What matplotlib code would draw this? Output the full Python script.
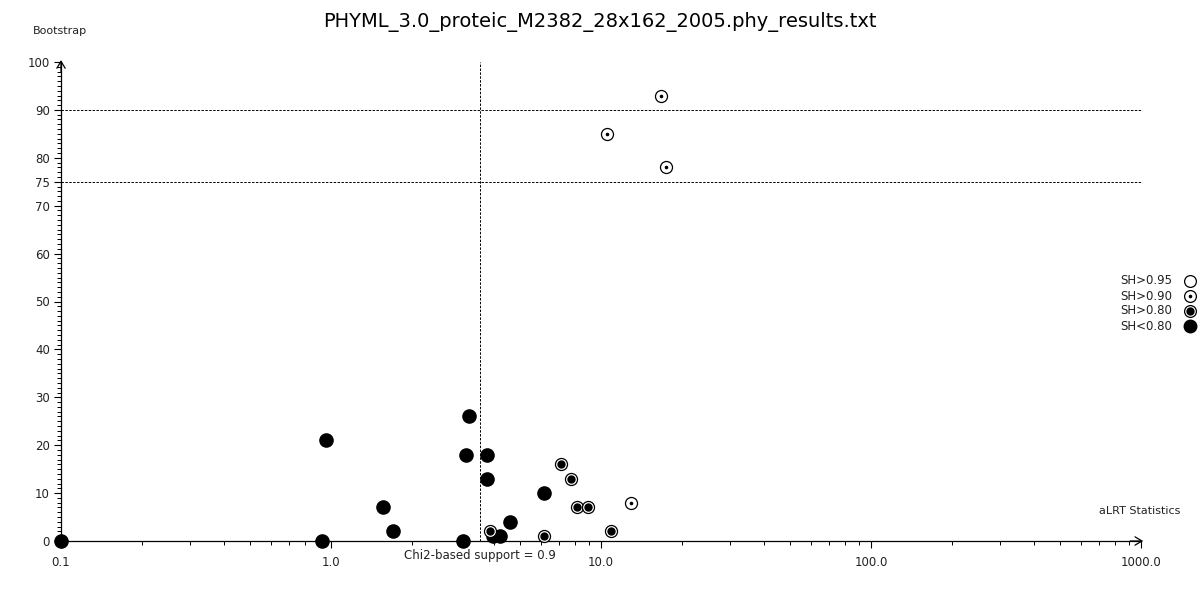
import matplotlib
matplotlib.use("Agg")
import matplotlib.pyplot as plt
from matplotlib.ticker import FixedLocator, MultipleLocator, LogLocator, NullFormatter

# aLRT statistic / bootstrap support per branch, grouped by SH-like support
low_x = [0.1, 0.926, 0.958, 1.56, 1.70, 3.08, 3.16, 3.24, 3.78, 3.78, 3.98, 4.23, 4.60, 6.15]
low_y = [0, 0, 21, 7, 2, 0, 18, 26, 18, 13, 1, 1, 4, 10]
sh80_x = [3.88, 6.15, 7.11, 7.74, 8.15, 8.95, 10.9]
sh80_y = [2, 1, 16, 13, 7, 7, 2]
sh90_x = [12.9, 16.7, 10.5, 17.4]
sh90_y = [8, 93, 85, 78]

chi2_support = 3.56
boot_lines = [90, 75]
y_ticks = [0, 10, 20, 30, 40, 50, 60, 70, 75, 80, 90, 100]
x_ticks = [0.1, 1.0, 10.0, 100.0, 1000.0]
x_labels = ["0.1", "1.0", "10.0", "100.0", "1000.0"]
legend_labels = ["SH>0.95", "SH>0.90", "SH>0.80", "SH<0.80"]

fig = plt.figure(figsize=(12, 6), dpi=100)
ax = fig.add_axes([61 / 1200, 59 / 600, 1080 / 1200, 479 / 600])
ax.set_xscale("log")
ax.set_xlim(0.1, 1000)
ax.set_ylim(0, 100)

for s in ["top", "right"]:
    ax.spines[s].set_visible(False)
for s in ["left", "bottom"]:
    ax.spines[s].set_linewidth(0.9)
    ax.spines[s].set_zorder(1)

# open arrow heads at the axis ends
arrow = dict(arrowstyle="->,head_length=0.5,head_width=0.3", lw=0.9, color="black",
             shrinkA=0, shrinkB=0)
ax.annotate("", xy=(1.002, 0), xytext=(0.99, 0), xycoords="axes fraction", arrowprops=arrow)
ax.annotate("", xy=(0, 1.004), xytext=(0, 0.98), xycoords="axes fraction", arrowprops=arrow)

ax.yaxis.set_major_locator(FixedLocator(y_ticks))
ax.yaxis.set_minor_locator(MultipleLocator(1))
ax.set_yticklabels([str(t) for t in y_ticks])
ax.xaxis.set_major_locator(FixedLocator(x_ticks))
ax.set_xticklabels(x_labels)
ax.xaxis.set_minor_locator(LogLocator(base=10, subs=range(2, 10)))
ax.xaxis.set_minor_formatter(NullFormatter())
ax.tick_params(axis="both", which="major", length=5, width=0.8, labelsize=8.5,
               labelcolor="#222222", pad=3)
ax.tick_params(axis="both", which="minor", length=3, width=0.7)
ax.tick_params(axis="x", which="major", pad=6)

for yv in boot_lines:
    ax.plot([0.1, 1000], [yv, yv], ls=(0, (2.5, 1.5)), color="black", lw=0.7)
ax.plot([chi2_support, chi2_support], [0, 100], ls=(0, (2.5, 1.5)), color="black", lw=0.7)

ax.scatter(low_x, low_y, s=90, color="black", zorder=5, clip_on=False)
ax.scatter(sh80_x, sh80_y, s=75, facecolor="white", edgecolor="black", lw=0.9, zorder=5, clip_on=False)
ax.scatter(sh80_x, sh80_y, s=25, color="black", zorder=6, clip_on=False)
ax.scatter(sh90_x, sh90_y, s=75, facecolor="white", edgecolor="black", lw=0.9, zorder=5, clip_on=False)
ax.scatter(sh90_x, sh90_y, s=2.5, color="black", zorder=6, clip_on=False)

fig.text(0.5, 1 - 22 / 600, "PHYML_3.0_proteic_M2382_28x162_2005.phy_results.txt",
         ha="center", va="center", fontsize=14)
fig.text(33 / 1200, 1 - 31 / 600, "Bootstrap", ha="left", va="center", fontsize=8, color="#222222")
fig.text(1180 / 1200, 1 - 511 / 600, "aLRT Statistics", ha="right", va="center", fontsize=8, color="#222222")
ax.text(chi2_support, -1.6, "Chi2-based support = 0.9", ha="center", va="top",
        fontsize=8.5, color="#222222")

# legend drawn by hand at right
for i, lab in enumerate(legend_labels):
    yy = 1 - (281 + 15 * i) / 600
    fig.text(1172 / 1200, yy, lab, ha="right", va="center", fontsize=8.5, color="#222222")
    xm = 1190 / 1200
    if i == 3:
        fig.add_artist(plt.Line2D([xm], [yy], marker="o", ms=9, color="black", transform=fig.transFigure))
    else:
        fig.add_artist(plt.Line2D([xm], [yy], marker="o", ms=8.5, mfc="white", mec="black",
                                  mew=0.9, transform=fig.transFigure))
        if i == 1:
            fig.add_artist(plt.Line2D([xm], [yy], marker="o", ms=1.6, color="black", transform=fig.transFigure))
        if i == 2:
            fig.add_artist(plt.Line2D([xm], [yy], marker="o", ms=5, color="black", transform=fig.transFigure))

fig.savefig("out.png", dpi=100)
